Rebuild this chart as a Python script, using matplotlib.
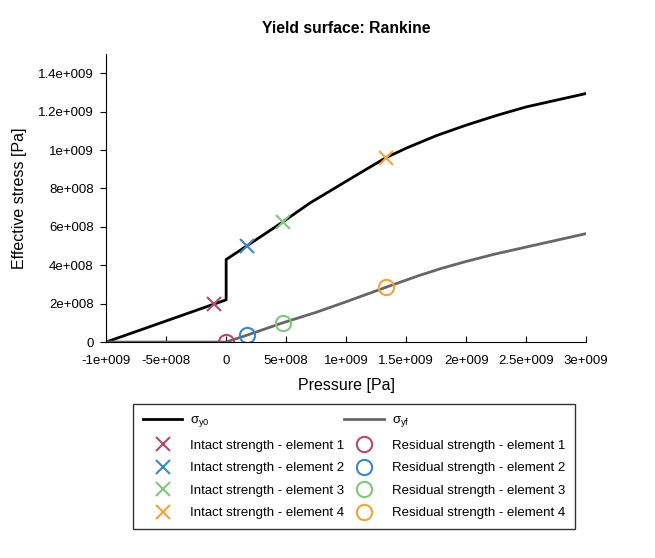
import matplotlib
matplotlib.use("Agg")
import matplotlib.pyplot as plt
from matplotlib.ticker import FixedLocator

plt.rcParams['font.family'] = ['Liberation Sans', 'DejaVu Sans']

# yield curves (pressure [Pa], effective stress [Pa])
p_y0 = [-1e9, 0.0, 0.0, 0.17e9, 0.47e9, 0.7e9, 0.9e9, 1.1e9, 1.33e9, 1.5e9, 1.75e9,
        2.0e9, 2.25e9, 2.5e9, 2.75e9, 3.0e9]
s_y0 = [0.0, 2.2e8, 4.3e8, 5.0e8, 6.25e8, 7.25e8, 8.0e8, 8.75e8, 9.6e8, 10.1e8, 10.75e8,
        11.3e8, 11.8e8, 12.25e8, 12.6e8, 12.95e8]

p_yf = [-1e9, 0.0, 0.17e9, 0.47e9, 0.75e9, 1.0e9, 1.33e9, 1.6e9, 1.8e9, 2.0e9,
        2.25e9, 2.5e9, 2.75e9, 3.0e9]
s_yf = [0.0, 0.0, 0.35e8, 1.0e8, 1.55e8, 2.1e8, 2.85e8, 3.45e8, 3.85e8, 4.2e8,
        4.6e8, 4.95e8, 5.3e8, 5.65e8]

# element states
intact_p = [-0.1e9, 0.17e9, 0.47e9, 1.33e9]
intact_s = [2.0e8, 5.0e8, 6.25e8, 9.6e8]
resid_p = [0.0, 0.17e9, 0.47e9, 1.33e9]
resid_s = [0.0, 0.36e8, 1.0e8, 2.85e8]
elem_colors = ['#b44a6c', '#3d86c1', '#80c67f', '#f5a238']

xticks = [-1e9, -5e8, 0, 5e8, 1e9, 1.5e9, 2e9, 2.5e9, 3e9]
xticklabels = ['-1e+009', '-5e+008', '0', '5e+008', '1e+009', '1.5e+009', '2e+009', '2.5e+009', '3e+009']
yticks = [0, 2e8, 4e8, 6e8, 8e8, 1e9, 1.2e9, 1.4e9]
yticklabels = ['0', '2e+008', '4e+008', '6e+008', '8e+008', '1e+009', '1.2e+009', '1.4e+009']

fig = plt.figure(figsize=(6.55, 5.58), dpi=100)
ax = fig.add_axes([0.162, 0.387, 0.733, 0.516])

ax.plot(p_y0, s_y0, color='black', lw=2.0, label='σ$_\\mathregular{y0}$')
for i in range(4):
    ax.plot(intact_p[i], intact_s[i], ls='none', marker='x', ms=10, mew=1.5,
            color=elem_colors[i], label='Intact strength - element %d' % (i + 1))
ax.plot(p_yf, s_yf, color='#666666', lw=2.0, label='σ$_\\mathregular{yf}$')
for i in range(4):
    ax.plot(resid_p[i], resid_s[i], ls='none', marker='o', ms=11, mew=1.5,
            mfc='none', color=elem_colors[i], label='Residual strength - element %d' % (i + 1))

ax.set_xlim(-1e9, 3e9)
ax.set_ylim(0, 1.5e9)
ax.xaxis.set_major_locator(FixedLocator(xticks))
ax.set_xticklabels(xticklabels)
ax.yaxis.set_major_locator(FixedLocator(yticks))
ax.set_yticklabels(yticklabels)
ax.tick_params(labelsize=9.5, length=4, colors='black')
ax.tick_params(axis='x', direction='in', pad=9)
ax.tick_params(axis='y', direction='out', pad=5)
ax.spines['top'].set_visible(False)
ax.spines['right'].set_visible(False)

ax.set_title('Yield surface: Rankine', fontsize=11.3, fontweight='bold', pad=15)
ax.set_xlabel('Pressure [Pa]', fontsize=11.5, labelpad=8)
ax.set_ylabel('Effective stress [Pa]', fontsize=11.5, labelpad=8)

leg = fig.legend(loc='upper left', bbox_to_anchor=(0.203, 0.052, 0.675, 0.224),
                 mode='expand', ncol=2, fontsize=9.5, frameon=True, fancybox=False,
                 edgecolor='black', handlelength=3, labelspacing=0.78, borderaxespad=0,
                 borderpad=0.75, handletextpad=0.6)
leg.get_frame().set_linewidth(1.0)

fig.savefig('out.png', dpi=100)
